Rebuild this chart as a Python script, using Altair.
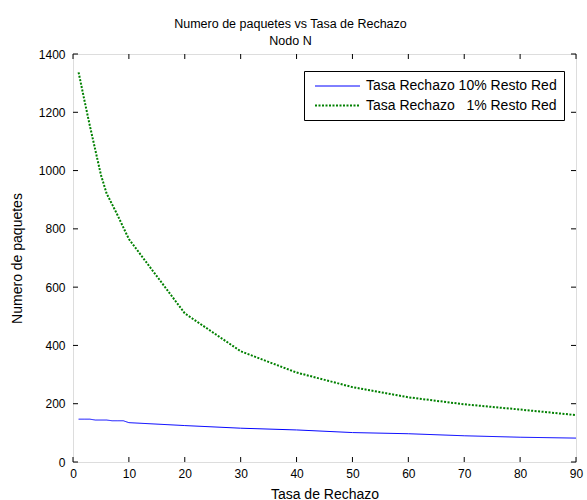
import altair as alt
import pandas as pd

# ---- data ----
x_vals = [1, 2, 3, 4, 5, 6, 7, 8, 9, 10, 20, 30, 40, 50, 60, 70, 80, 90]
rechazo_10 = [147, 147, 147, 144, 144, 144, 141.5, 141.5, 141.5, 135, 125, 116, 110, 101, 97, 90, 85, 82]
rechazo_1 = [1337, 1245, 1155, 1070, 985, 922, 884, 846, 805, 765, 510, 380, 307, 257, 222, 198, 180, 161]

series_names = ["Tasa Rechazo 10% Resto Red", "Tasa Rechazo\u00a0\u00a0\u00a01% Resto Red"]
x_ticks = [0, 10, 20, 30, 40, 50, 60, 70, 80, 90]
y_ticks = [0, 200, 400, 600, 800, 1000, 1200, 1400]

W, H = 503, 408
FONT = "Liberation Sans"

rows = []
for x, a, b in zip(x_vals, rechazo_10, rechazo_1):
    rows.append({"x": x, "y": a, "serie": series_names[0]})
    rows.append({"x": x, "y": b, "serie": series_names[1]})
df = pd.DataFrame(rows)

xscale = alt.Scale(domain=[0, 90], nice=False, zero=False)
yscale = alt.Scale(domain=[0, 1400], nice=False)

lines = alt.Chart(df).mark_line(clip=True).encode(
    x=alt.X("x:Q", scale=xscale,
            axis=alt.Axis(values=x_ticks, ticks=False, domain=False, grid=False,
                          labelFlush=False, labelOverlap=False, labelBound=False,
                          labelFontSize=12, labelColor="black", labelFont=FONT,
                          labelPadding=6, title="Tasa de Rechazo",
                          titleFontSize=14, titleFont=FONT, titleFontWeight="normal",
                          titleColor="black", titleX=W / 2, titleY=36,
                          titleBaseline="alphabetic", titleAlign="center")),
    y=alt.Y("y:Q", scale=yscale,
            axis=alt.Axis(values=y_ticks, ticks=False, domain=False, grid=False,
                          format="d", labelFlush=False, labelOverlap=False,
                          labelFontSize=12, labelColor="black", labelFont=FONT,
                          labelPadding=8, title="Numero de paquetes",
                          titleFontSize=14, titleFont=FONT, titleFontWeight="normal",
                          titleColor="black", titleX=-52, titleY=H / 2,
                          titleAngle=270, titleBaseline="alphabetic", titleAlign="center")),
    color=alt.Color("serie:N", sort=series_names,
                    scale=alt.Scale(domain=series_names, range=["#0000ff", "#008000"]),
                    legend=alt.Legend(title=None, orient="none", legendX=231, legendY=17,
                                      symbolType="M-3,0H3", symbolSize=225,
                                      symbolOffset=18, labelOffset=20,
                                      labelFontSize=14, labelFont=FONT, labelColor="black",
                                      labelLimit=400,
                                      padding=7, rowPadding=4, strokeColor="black",
                                      fillColor="white")),
    strokeDash=alt.StrokeDash("serie:N", sort=series_names,
                              scale=alt.Scale(domain=series_names, range=[[1, 0], [2, 1.5]])),
    strokeWidth=alt.StrokeWidth("serie:N", sort=series_names,
                                scale=alt.Scale(domain=series_names, range=[1, 2])),
)

xt = pd.DataFrame({"t": x_ticks})
yt = pd.DataFrame({"t": y_ticks})

tick_style = dict(color="black", strokeWidth=1)
xb = alt.Chart(xt).mark_rule(**tick_style).encode(
    x=alt.X("t:Q", scale=xscale), y=alt.value(H), y2=alt.value(H - 5))
xtp = alt.Chart(xt).mark_rule(**tick_style).encode(
    x=alt.X("t:Q", scale=xscale), y=alt.value(0), y2=alt.value(5))
yl = alt.Chart(yt).mark_rule(**tick_style).encode(
    y=alt.Y("t:Q", scale=yscale), x=alt.value(0), x2=alt.value(5))
yr = alt.Chart(yt).mark_rule(**tick_style).encode(
    y=alt.Y("t:Q", scale=yscale), x=alt.value(W - 5), x2=alt.value(W))

chart = alt.layer(lines, xb, xtp, yl, yr).properties(
    width=W, height=H,
    title=alt.TitleParams(["Numero de paquetes vs Tasa de Rechazo", "Nodo N"],
                          fontSize=12.5, font=FONT, fontWeight="normal", color="black",
                          anchor="middle", dx=-34, offset=1, lineHeight=17),
    autosize=alt.AutoSizeParams(type="none"),
    padding={"left": 73, "top": 54, "right": 11, "bottom": 38},
).configure_view(stroke="black", strokeWidth=1.5).configure(background="white")

chart.save("out.html", embed_options={"renderer": "svg", "actions": False})
